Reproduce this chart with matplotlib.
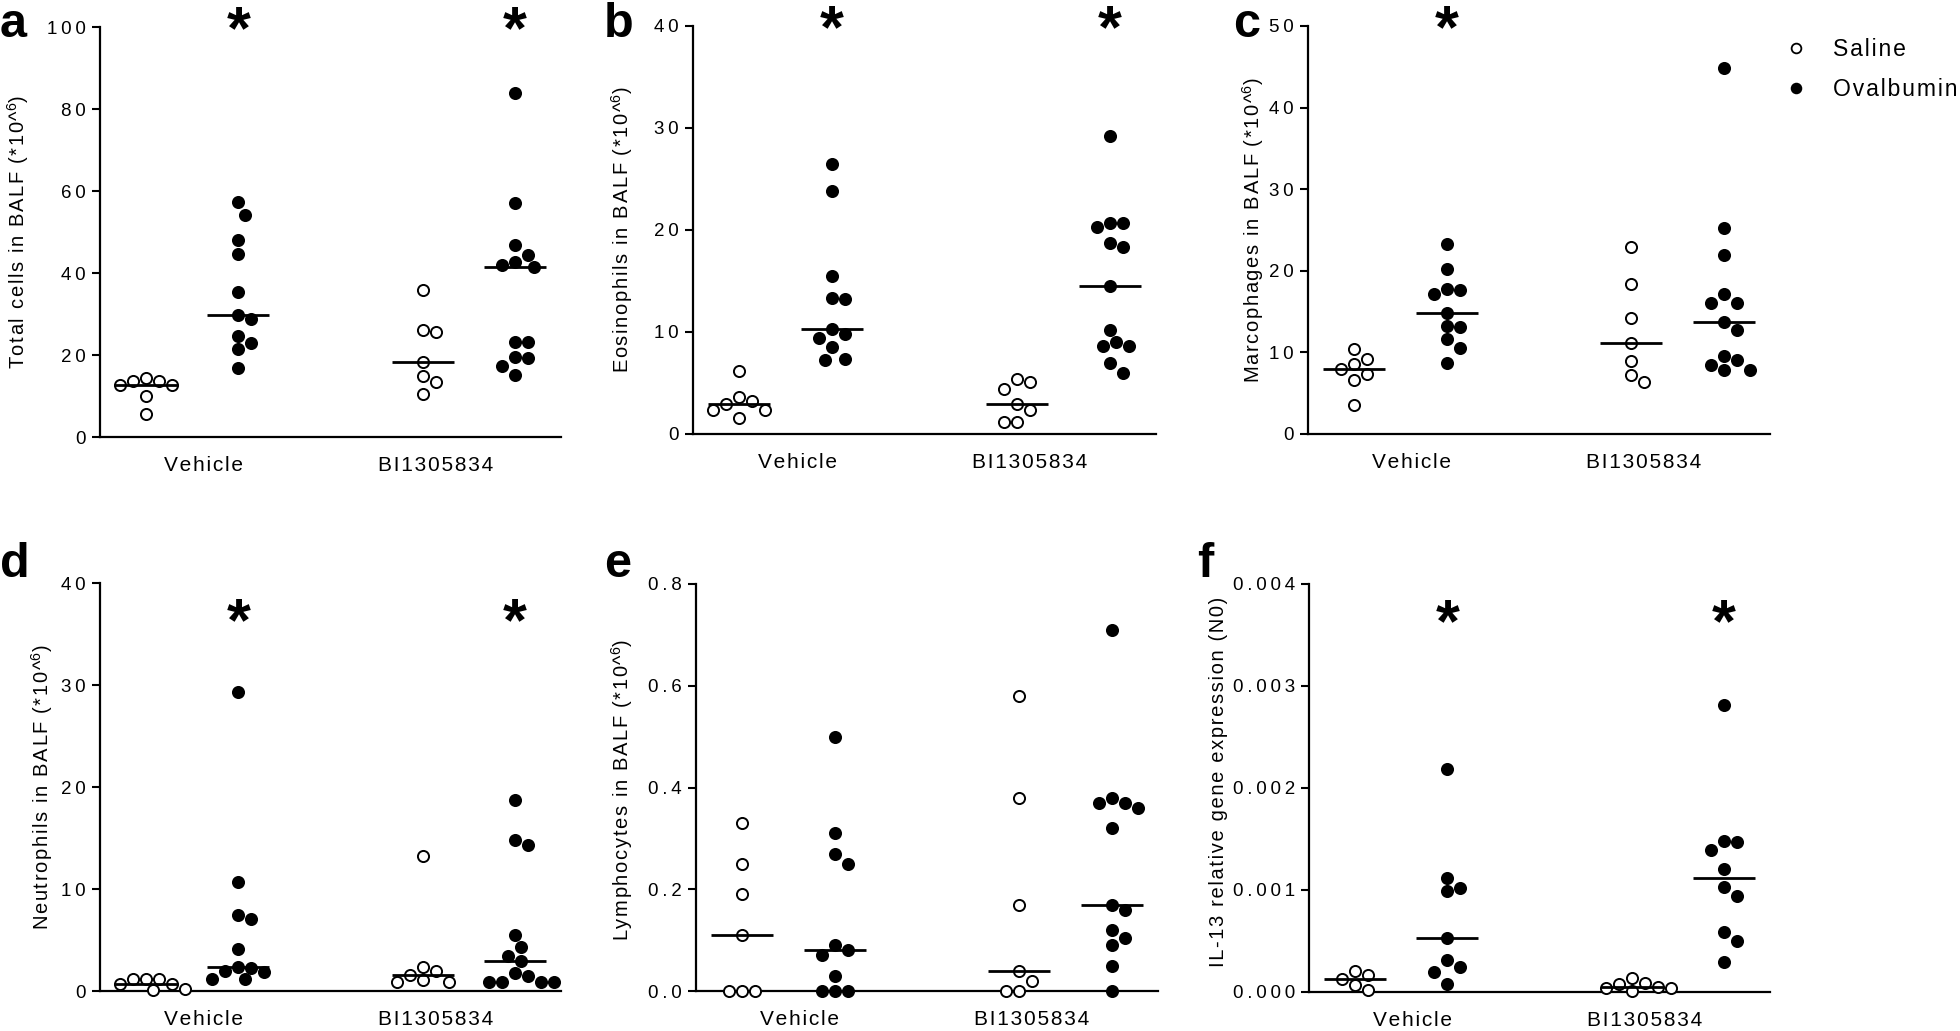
import numpy as np
import matplotlib
matplotlib.use("Agg")
import matplotlib.pyplot as plt
from matplotlib.lines import Line2D
import matplotlib.transforms as mtrans

plt.rcParams['font.family'] = ['Liberation Sans', 'DejaVu Sans']
plt.rcParams['mathtext.fontset'] = 'custom'
plt.rcParams['mathtext.rm'] = 'Liberation Sans'
plt.rcParams['mathtext.default'] = 'regular'

# ---- data ----
groups = ['Vehicle', 'BI1305834']

total_sal_veh = [14.3, 13.7, 13.6, 12.8, 12.8, 10.0, 5.5]
total_ova_veh = [57.3, 54.2, 48.1, 44.6, 35.4, 29.8, 28.8, 24.7, 22.9, 21.4, 16.9]
total_sal_bi = [35.8, 26.1, 25.6, 18.2, 14.9, 13.5, 10.6]
total_ova_bi = [83.9, 57.1, 46.9, 44.4, 42.6, 42.0, 41.5, 23.2, 23.1, 19.5, 19.2, 17.4, 15.1]

eos_sal_veh = [6.2, 3.6, 3.2, 2.9, 2.4, 2.4, 1.6]
eos_ova_veh = [26.5, 23.8, 15.5, 13.3, 13.2, 10.3, 9.8, 9.4, 8.5, 7.4, 7.3]
eos_sal_bi = [5.4, 5.1, 4.4, 2.95, 2.4, 1.15, 1.15]
eos_ova_bi = [29.2, 20.7, 20.7, 20.3, 18.7, 18.3, 14.5, 10.2, 9.0, 8.6, 8.6, 7.0, 6.0]

mac_sal_veh = [10.4, 9.2, 8.6, 8.0, 7.3, 6.6, 3.6]
mac_ova_veh = [23.3, 20.2, 17.8, 17.6, 17.1, 14.8, 13.2, 13.1, 11.6, 10.5, 8.7]
mac_sal_bi = [22.9, 18.4, 14.2, 11.1, 9.0, 7.2, 6.4]
mac_ova_bi = [44.9, 25.2, 21.9, 17.1, 16.1, 16.0, 13.7, 12.8, 9.6, 9.1, 8.4, 7.8, 7.8]

neu_sal_veh = [1.2, 1.2, 1.2, 0.65, 0.65, 0.15, 0.07]
neu_ova_veh = [29.3, 10.7, 7.5, 7.1, 4.1, 2.4, 2.3, 2.0, 1.9, 1.15, 1.15]
neu_sal_bi = [13.2, 2.4, 2.0, 1.6, 1.1, 0.9, 0.9]
neu_ova_bi = [18.7, 14.8, 14.3, 5.5, 4.3, 3.4, 2.95, 1.8, 1.5, 0.9, 0.9, 0.9, 0.9]

lym_sal_veh = [0.33, 0.25, 0.19, 0.11, 0.0, 0.0, 0.0]
lym_ova_veh = [0.50, 0.31, 0.27, 0.25, 0.09, 0.08, 0.07, 0.03, 0.0, 0.0, 0.0]
lym_sal_bi = [0.58, 0.38, 0.17, 0.04, 0.02, 0.0, 0.0]
lym_ova_bi = [0.71, 0.38, 0.37, 0.37, 0.36, 0.32, 0.17, 0.16, 0.12, 0.105, 0.09, 0.05, 0.0]

il13_sal_veh = [0.00021, 0.00017, 0.00013, 0.000065, 0.000016]
il13_ova_veh = [0.00219, 0.00112, 0.00102, 0.00099, 0.00053, 0.00031, 0.00025, 0.0002, 0.00008]
il13_sal_bi = [0.00014, 0.00009, 0.00008, 0.00005, 0.00004, 0.00004, 0.000005]
il13_ova_bi = [0.00281, 0.00148, 0.00147, 0.00139, 0.00121, 0.00103, 0.00094, 0.00059, 0.0005, 0.00029]

# ---- layout ----
W, H = 1960, 1031
fig = plt.figure(figsize=(W / 100, H / 100), dpi=100)

group_x = [1, 3, 7, 9]          # saline veh, ova veh, saline BI, ova BI
label_x = [2.25, 7.27]


def spaced(s, sp='\u200a'):
    return sp.join(s)


def swarm(vals, px_x, px_y, step=6.5, dist=13.0):
    # simple beeswarm: nearest free slot, in pixel space
    placed = []
    offs = []
    for v in vals:
        y = v * px_y
        for k in range(40):
            c = 0 if k == 0 else ((k + 1) // 2) * (1 if k % 2 else -1)
            x = c * step
            if all((x - px) ** 2 + (y - py) ** 2 >= dist ** 2 for px, py in placed):
                break
        placed.append((x, y))
        offs.append(x / px_x)
    return np.array(offs)


def panel(box, data, ymax, ticks, ticklabels, ylabel, ylab_xy, letter, letter_xy, stars, star_frac):
    l, t, r, b = box
    ax = fig.add_axes([l / W, 1 - b / H, (r - l) / W, (b - t) / H])
    ax.set_xlim(0, 10)
    ax.set_ylim(0, ymax)
    px_x = (r - l) / 10.0
    px_y = (b - t) / ymax
    for i, vals in enumerate(data):
        vals = np.array(vals)
        xs = group_x[i] + swarm(vals, px_x, px_y)
        face = 'white' if i % 2 == 0 else 'black'
        ax.plot(xs, vals, 'o', ms=8, mfc=face, mec='black', mew=1.4,
                clip_on=False, zorder=3)
        ax.hlines(np.median(vals), group_x[i] - 0.67, group_x[i] + 0.67,
                  color='black', lw=2, zorder=4)
    trans = mtrans.blended_transform_factory(ax.transData, ax.transAxes)
    for g in stars:
        ax.text(group_x[g], star_frac, '*', transform=trans, ha='center', va='center',
                fontsize=44, fontweight='bold', clip_on=False)
    for s in ['top', 'right']:
        ax.spines[s].set_visible(False)
    for s in ['left', 'bottom']:
        ax.spines[s].set_linewidth(1.6)
    ax.set_yticks(ticks)
    ax.set_yticklabels([spaced(tl, '\u2009') for tl in ticklabels])
    ax.tick_params(axis='y', length=6, width=1.5, pad=4, labelsize=13.5)
    ax.set_xticks(label_x)
    ax.set_xticklabels([spaced(g) for g in groups])
    ax.tick_params(axis='x', length=0, pad=14, labelsize=15)
    fig.text(ylab_xy[0] / W, 1 - ylab_xy[1] / H, ylabel, rotation=90,
             ha='center', va='center', fontsize=14.5)
    fig.text(letter_xy[0] / W, 1 - letter_xy[1] / H, letter, fontsize=35,
             fontweight='bold', ha='left', va='baseline')
    return ax


unit = spaced('(*10^') + '$^{6}$' + ')'

panel((100, 27, 561, 437), [total_sal_veh, total_ova_veh, total_sal_bi, total_ova_bi],
      100, [0, 20, 40, 60, 80, 100], ['0', '20', '40', '60', '80', '100'],
      spaced('Total cells in BALF ') + unit, (18, 232), 'a', (0, 37), [1, 3], 0.985)

panel((693, 26, 1156, 434), [eos_sal_veh, eos_ova_veh, eos_sal_bi, eos_ova_bi],
      40, [0, 10, 20, 30, 40], ['0', '10', '20', '30', '40'],
      spaced('Eosinophils in BALF ') + unit, (622, 230), 'b', (604, 37), [1, 3], 0.985)

panel((1308, 26, 1770, 434), [mac_sal_veh, mac_ova_veh, mac_sal_bi, mac_ova_bi],
      50, [0, 10, 20, 30, 40, 50], ['0', '10', '20', '30', '40', '50'],
      spaced('Marcophages in BALF ') + unit, (1253, 230), 'c', (1233, 37), [1], 0.985)

panel((100, 583, 561, 991), [neu_sal_veh, neu_ova_veh, neu_sal_bi, neu_ova_bi],
      40, [0, 10, 20, 30, 40], ['0', '10', '20', '30', '40'],
      spaced('Neutrophils in BALF ') + unit, (42, 787), 'd', (0, 577), [1, 3], 0.897)

panel((696, 584, 1158, 991), [lym_sal_veh, lym_ova_veh, lym_sal_bi, lym_ova_bi],
      0.8, [0, 0.2, 0.4, 0.6, 0.8], ['0.0', '0.2', '0.4', '0.6', '0.8'],
      spaced('Lymphocytes in BALF ') + unit, (622, 790), 'e', (604, 577), [], 0.897)

panel((1309, 584, 1770, 992), [il13_sal_veh, il13_ova_veh, il13_sal_bi, il13_ova_bi],
      0.004, [0, 0.001, 0.002, 0.003, 0.004], ['0.000', '0.001', '0.002', '0.003', '0.004'],
      spaced('IL-13 relative gene expression (N0)'), (1219, 782), 'f', (1197, 577), [1, 3], 0.897)

handles = [Line2D([], [], marker='o', ls='none', ms=7, mfc='white', mec='black', mew=1.3),
           Line2D([], [], marker='o', ls='none', ms=7, mfc='black', mec='black', mew=1.3)]
fig.legend(handles, [spaced('Saline'), spaced('Ovalbumin')], loc='upper left',
           bbox_to_anchor=(1785 / W, 1 - 38 / H), frameon=False, borderpad=0,
           borderaxespad=0, handlelength=1.0, handletextpad=1.1, labelspacing=0.75,
           fontsize=16.5)

fig.savefig('out.png', dpi=100)
